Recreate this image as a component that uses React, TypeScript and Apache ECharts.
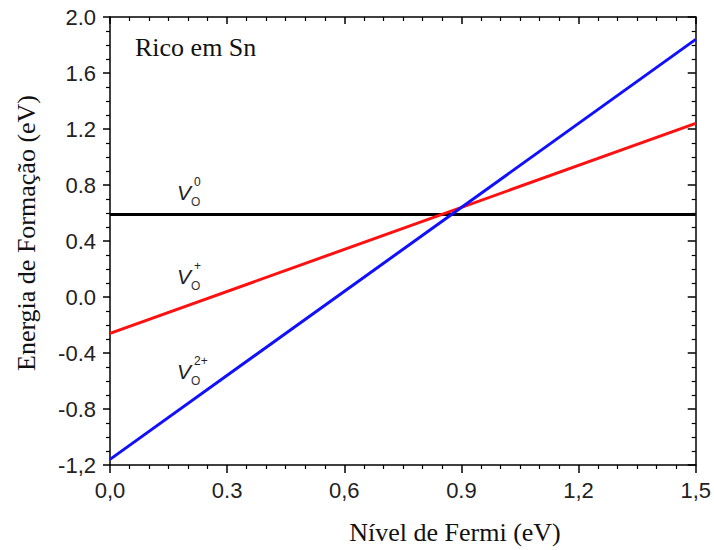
import React, { useEffect, useRef } from "react";
import * as echarts from "echarts";

// Data
const fermi = [0, 1.5];
const v0 = [0.59, 0.59];
const vPlus = [-0.26, 1.24];
const v2Plus = [-1.16, 1.84];

const xTickValues = [0, 0.3, 0.6, 0.9, 1.2, 1.5];
const xTickLabels = ["0,0", "0.3", "0,6", "0.9", "1,2", "1,5"];
const yTickValues = [-1.2, -0.8, -0.4, 0, 0.4, 0.8, 1.2, 1.6, 2.0];
const yTickLabels = ["-1,2", "-0.8", "-0.4", "0.0", "0.4", "0.8", "1.2", "1.6", "2.0"];

const xTitle = "Nível de Fermi (eV)";
const yTitle = "Energia de Formação (eV)";
const panelLabel = "Rico em Sn";

const pick = (vals: number[], labels: string[]) => (v: number) => {
  const i = vals.findIndex((t) => Math.abs(t - v) < 1e-6);
  return i >= 0 ? labels[i] : "";
};

const serif = "'Liberation Serif', 'Times New Roman', serif";
const sans = "'Liberation Sans', Arial, sans-serif";

function vLabel(x: number, y: number, sup: string) {
  return {
    type: "group",
    x,
    y,
    children: [
      { type: "text", x: 0, y: 0, style: { text: "V", font: `italic 21px ${sans}`, fill: "#222", align: "left", verticalAlign: "top" } },
      { type: "text", x: 17, y: -6, style: { text: sup, font: `12px ${sans}`, fill: "#222", align: "left", verticalAlign: "top" } },
      { type: "text", x: 14, y: 14, style: { text: "O", font: `12px ${sans}`, fill: "#333", align: "left", verticalAlign: "top" } },
    ],
  };
}

export default function App() {
  const ref = useRef<HTMLDivElement>(null);
  useEffect(() => {
    if (!ref.current) return;
    const chart = echarts.init(ref.current, null, { renderer: "svg" });
    const axisLine = { show: true, onZero: false, lineStyle: { color: "#000", width: 1.5 } };
    const mkData = (ys: number[]) => fermi.map((x, i) => [x, ys[i]]);
    chart.setOption({
      animation: false,
      backgroundColor: "#fff",
      grid: { left: 110, right: 17, top: 17, bottom: 85 },
      xAxis: [
        {
          type: "value", position: "bottom", min: 0, max: 1.5, interval: 0.3,
          axisLine,
          axisTick: { show: true, length: 8, inside: false, lineStyle: { color: "#000", width: 1.5 } },
          minorTick: { show: true, splitNumber: 6, length: 4, lineStyle: { color: "#000", width: 1.2 } },
          axisLabel: { formatter: pick(xTickValues, xTickLabels), fontFamily: sans, fontSize: 22, color: "#222", margin: 14 },
          splitLine: { show: false },
        },
        {
          type: "value", position: "top", min: 0, max: 1.5, interval: 0.3,
          axisLine,
          axisTick: { show: true, length: 7, inside: true, lineStyle: { color: "#000", width: 1.5 } },
          minorTick: { show: true, splitNumber: 6, length: 4, lineStyle: { color: "#000", width: 1.2 } },
          axisLabel: { show: false },
          splitLine: { show: false },
        },
      ],
      yAxis: [
        {
          type: "value", position: "left", min: -1.2, max: 2.0, interval: 0.4,
          axisLine,
          axisTick: { show: true, length: 7, inside: false, lineStyle: { color: "#000", width: 1.5 } },
          minorTick: { show: true, splitNumber: 4, length: 4, lineStyle: { color: "#000", width: 1.2 } },
          axisLabel: { formatter: pick(yTickValues, yTickLabels), fontFamily: sans, fontSize: 22, color: "#222", margin: 14 },
          splitLine: { show: false },
        },
        {
          type: "value", position: "right", min: -1.2, max: 2.0, interval: 0.4,
          axisLine,
          axisTick: { show: true, length: 8, inside: true, lineStyle: { color: "#000", width: 1.5 } },
          minorTick: { show: true, splitNumber: 4, length: 4, lineStyle: { color: "#000", width: 1.2 } },
          axisLabel: { show: false },
          splitLine: { show: false },
        },
      ],
      series: [
        { type: "line", data: mkData(v0), showSymbol: false, lineStyle: { color: "#000", width: 3 }, xAxisIndex: 0, yAxisIndex: 0 },
        { type: "line", data: mkData(vPlus), showSymbol: false, lineStyle: { color: "#ff1010", width: 3 }, xAxisIndex: 0, yAxisIndex: 0 },
        { type: "line", data: mkData(v2Plus), showSymbol: false, lineStyle: { color: "#1010ff", width: 3 }, xAxisIndex: 0, yAxisIndex: 0 },
      ],
      graphic: [
        { type: "text", x: 135, y: 47, style: { text: panelLabel, font: `26px ${serif}`, fill: "#111", align: "left", verticalAlign: "middle" } },
        { type: "text", x: 455, y: 532, style: { text: xTitle, font: `26px ${serif}`, fill: "#111", align: "center", verticalAlign: "middle" } },
        { type: "text", x: 26, y: 233, rotation: Math.PI / 2, style: { text: yTitle, font: `26px ${serif}`, fill: "#111", align: "center", verticalAlign: "middle" } },
        vLabel(177, 182, "0"),
        vLabel(177, 266, "+"),
        vLabel(177, 361, "2+"),
      ],
    });
    return () => chart.dispose();
  }, []);
  return <div ref={ref} style={{ position: "fixed", left: 0, top: 0, width: 714, height: 550 }} />;
}
